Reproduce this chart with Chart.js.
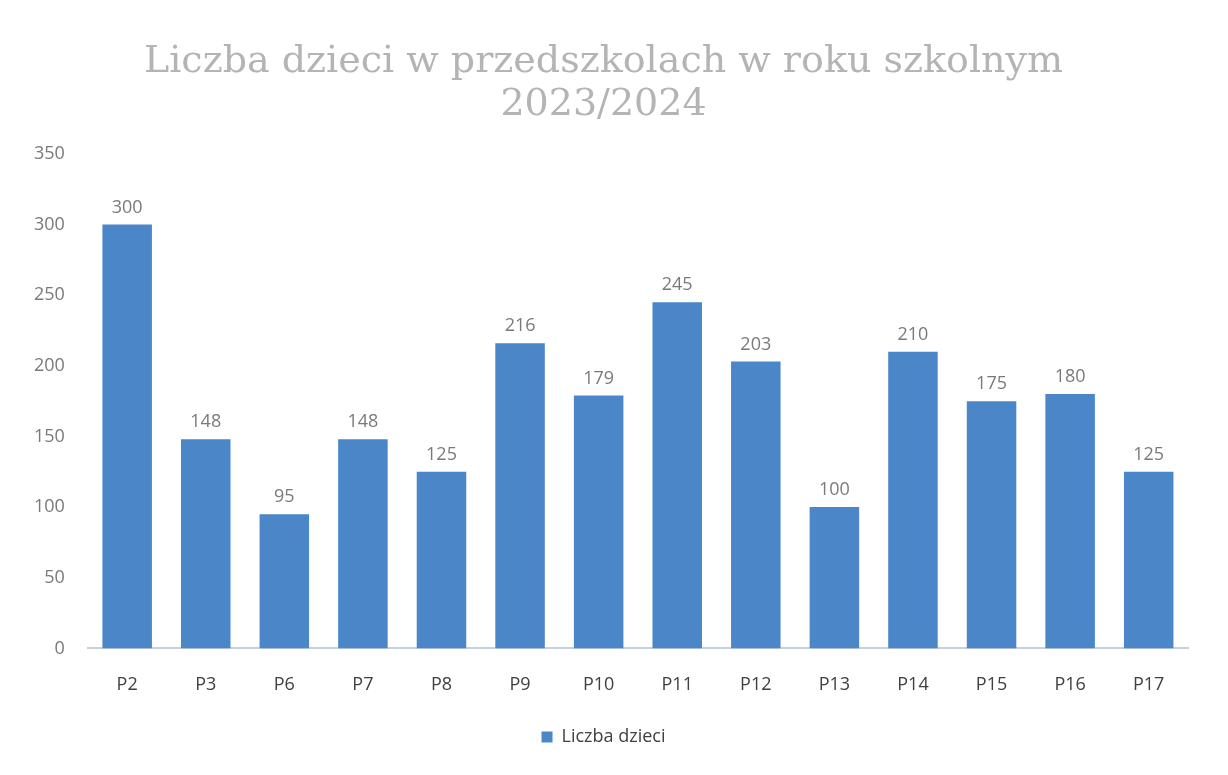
<!DOCTYPE html>
<html><head><meta charset="utf-8">
<script src="https://cdn.jsdelivr.net/npm/chart.js@4"></script>
<style>html,body{margin:0;padding:0;background:#fff;}#wrap{width:1228px;height:775px;}</style>
</head><body><div id="wrap"><canvas id="c"></canvas></div>
<script>
const categories = ["P2","P3","P6","P7","P8","P9","P10","P11","P12","P13","P14","P15","P16","P17"];
const values = [300,148,95,148,125,216,179,245,203,100,210,175,180,125];
const seriesName = "Liczba dzieci";
const titleLines = ["Liczba dzieci w przedszkolach w roku szkolnym","2023/2024"];

const valueLabels = {
  id:'valueLabels',
  afterDatasetsDraw(chart){
    const ctx = chart.ctx;
    const meta = chart.getDatasetMeta(0);
    ctx.save();
    ctx.font = '18px "Open Sans", sans-serif';
    ctx.fillStyle = '#7a7a7a';
    ctx.textAlign = 'center';
    ctx.textBaseline = 'bottom';
    meta.data.forEach((el,i)=>{
      ctx.fillText(String(chart.data.datasets[0].data[i]), el.x, el.y - 8);
    });
    ctx.restore();
  }
};

new Chart(document.getElementById('c'), {
  type:'bar',
  data:{labels:categories, datasets:[{label:seriesName, data:values, backgroundColor:'#4a86c8', borderWidth:0, barPercentage:0.63, categoryPercentage:1}]},
  plugins:[valueLabels],
  options:{
    responsive:true, maintainAspectRatio:false, animation:false,
    layout:{padding:{left:19,right:40,top:12,bottom:19}},
    plugins:{
      title:{display:true, text:titleLines, color:'#b4b4b4', font:{family:'"DejaVu Serif", serif', size:38, weight:'normal', lineHeight:1.13}, padding:{top:29,bottom:27}},
      legend:{display:true, position:'bottom', labels:{boxWidth:11, boxHeight:11, color:'#404040', font:{family:'"Open Sans", sans-serif', size:18}, padding:6}},
      tooltip:{enabled:false}
    },
    scales:{
      x:{grid:{display:false, drawTicks:false}, border:{color:'#c8d0dc', width:2}, ticks:{color:'#404040', font:{family:'"Open Sans", sans-serif', size:18}, padding:26}},
      y:{min:0, max:350, grid:{display:false}, border:{display:false}, ticks:{stepSize:50, color:'#7a7a7a', font:{family:'"Open Sans", sans-serif', size:18}, padding:15}}
    }
  }
});
</script></body></html>
